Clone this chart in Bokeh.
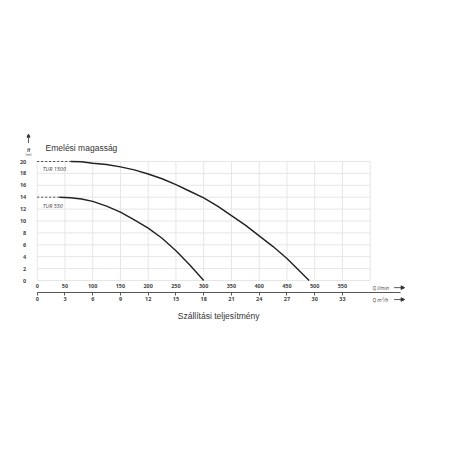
from bokeh.plotting import figure
from bokeh.models import (Range1d, LinearAxis, FixedTicker, Label, Arrow, NormalHead,
                          ColumnDataSource)
from bokeh.embed import file_html
from bokeh.resources import INLINE

# ---- data ----
q_lmin_ticks = [0, 50, 100, 150, 200, 250, 300, 350, 400, 450, 500, 550]
q_m3h_ticks = [0, 3, 6, 9, 12, 15, 18, 21, 24, 27, 30, 33]
h_ticks = [0, 2, 4, 6, 8, 10, 12, 14, 16, 18, 20]
grid_x = [0, 50, 100, 150, 200, 250, 300, 350, 400, 450, 500, 550, 600]

tur1500_q = [60, 80, 100, 125, 150, 175, 200, 225, 250, 275, 300, 325, 350, 375, 400, 425, 450, 475, 490]
tur1500_h = [20, 19.95, 19.7, 19.5, 19.1, 18.6, 17.9, 17.1, 16.1, 15.0, 13.9, 12.5, 10.9, 9.3, 7.5, 5.7, 3.7, 1.4, 0]
tur550_q = [40, 60, 80, 100, 125, 150, 175, 200, 225, 250, 275, 300]
tur550_h = [14, 13.9, 13.7, 13.3, 12.5, 11.5, 10.2, 8.8, 7.1, 5.0, 2.6, 0]

W = 448
px_per_x = 0.555
px_per_y = 5.95
x0_px = 36.7
y0_px = 280.0
x_start = -x0_px / px_per_x
x_end = x_start + W / px_per_x
y_end = y0_px / px_per_y
y_start = -(W - y0_px) / px_per_y

p = figure(output_backend="svg", toolbar_location=None,
           width=W, height=W, min_border=0,
           x_range=Range1d(x_start, x_end), y_range=Range1d(y_start, y_end),
           x_axis_type=None, y_axis_type=None)
p.outline_line_color = None
p.background_fill_color = "white"
p.border_fill_color = "white"
p.xgrid.visible = False
p.ygrid.visible = False

tick_font = "Open Sans"
tick_color = "#444444"

# y axis
yax = LinearAxis(ticker=FixedTicker(ticks=h_ticks), fixed_location=0)
yax.axis_line_color = None
yax.major_tick_line_color = None
yax.minor_tick_line_color = None
yax.major_label_standoff = 5
yax.major_label_text_font = tick_font
yax.major_label_text_font_size = "5.5px"
yax.major_label_text_font_style = "bold"
yax.major_label_text_color = tick_color
p.add_layout(yax, "left")

# bottom axis 1: l/min
xax1 = LinearAxis(ticker=FixedTicker(ticks=q_lmin_ticks), fixed_location=-0.5)
xax1.axis_line_color = None
xax1.major_tick_line_color = None
xax1.minor_tick_line_color = None
xax1.major_tick_out = 0
xax1.major_label_standoff = 1
xax1.major_label_text_font = tick_font
xax1.major_label_text_font_size = "5.5px"
xax1.major_label_text_font_style = "bold"
xax1.major_label_text_color = tick_color
p.add_layout(xax1, "below")

# bottom axis 2: m3/h
p.extra_x_ranges = {"m3h": Range1d(x_start * 60 / 1000, x_end * 60 / 1000)}
xax2 = LinearAxis(x_range_name="m3h", ticker=FixedTicker(ticks=q_m3h_ticks),
                  fixed_location=-2.1, bounds=(0, 39.3))
xax2.axis_line_color = "#555555"
xax2.axis_line_width = 1
xax2.major_tick_line_color = "#555555"
xax2.major_tick_in = 0
xax2.major_tick_out = 3
xax2.minor_tick_line_color = None
xax2.major_label_standoff = 1
xax2.major_label_text_font = tick_font
xax2.major_label_text_font_size = "5.5px"
xax2.major_label_text_font_style = "bold"
xax2.major_label_text_color = tick_color
p.add_layout(xax2, "below")

# grid
gsrc_v = ColumnDataSource(dict(x0=grid_x, y0=[0] * len(grid_x), x1=grid_x, y1=[20] * len(grid_x)))
p.segment(x0="x0", y0="y0", x1="x1", y1="y1", source=gsrc_v, line_color="#e6e6e6", line_width=1)
gsrc_h = ColumnDataSource(dict(x0=[0] * len(h_ticks), y0=h_ticks, x1=[600] * len(h_ticks), y1=h_ticks))
p.segment(x0="x0", y0="y0", x1="x1", y1="y1", source=gsrc_h, line_color="#e6e6e6", line_width=1)

# dashed leaders
p.line([0, tur1500_q[0]], [tur1500_h[0], tur1500_h[0]], line_color="#222222", line_width=0.8, line_dash="2 2")
p.line([0, tur550_q[0]], [tur550_h[0], tur550_h[0]], line_color="#222222", line_width=0.8, line_dash="2 2")

# curves
p.line(tur1500_q, tur1500_h, line_color="#222222", line_width=1.4)
p.line(tur550_q, tur550_h, line_color="#222222", line_width=1.4)

# curve labels
for txt, yy in [("TUR 1500", 18.8), ("TUR 550", 12.6)]:
    p.add_layout(Label(x=10, y=yy, text=txt, text_font=tick_font, text_font_size="5.5px",
                       text_font_style="italic", text_color=tick_color,
                       text_align="left", text_baseline="middle"))

# titles
p.add_layout(Label(x=15, y=22.2, text="Emelési magasság", text_font="Liberation Sans",
                   text_font_size="8.5px", text_color="#333333",
                   text_align="left", text_baseline="middle"))
p.add_layout(Label(x=-15.7, y=22.0, text="H", text_font=tick_font, text_font_size="4.5px",
                   text_font_style="bold italic", text_color=tick_color,
                   text_align="center", text_baseline="middle"))
p.add_layout(Label(x=-15.7, y=21.1, text="(m)", text_font=tick_font, text_font_size="4px",
                   text_color=tick_color, text_align="center", text_baseline="middle"))
p.add_layout(Arrow(x_start=-15.7, y_start=23.1, x_end=-15.7, y_end=24.6,
                   line_color="#333333", line_width=0.8,
                   end=NormalHead(size=3, fill_color="#333333", line_color="#333333")))

p.add_layout(Label(x=604, y=-1.2, text="Q l/min", text_font=tick_font, text_font_size="5px",
                   text_font_style="italic", text_color=tick_color,
                   text_align="left", text_baseline="middle"))
p.add_layout(Label(x=604, y=-3.2, text="Q m³/h", text_font=tick_font, text_font_size="5px",
                   text_font_style="italic", text_color=tick_color,
                   text_align="left", text_baseline="middle"))
for yy in [-1.2, -3.2]:
    p.add_layout(Arrow(x_start=643, y_start=yy, x_end=662, y_end=yy,
                       line_color="#333333", line_width=0.8,
                       end=NormalHead(size=3.5, fill_color="#333333", line_color="#333333")))

p.add_layout(Label(x=327, y=-5.9, text="Szállítási teljesítmény", text_font="Liberation Sans",
                   text_font_size="8.5px", text_color="#333333",
                   text_align="center", text_baseline="middle"))

open("out.html", "w").write(file_html(p, INLINE))
